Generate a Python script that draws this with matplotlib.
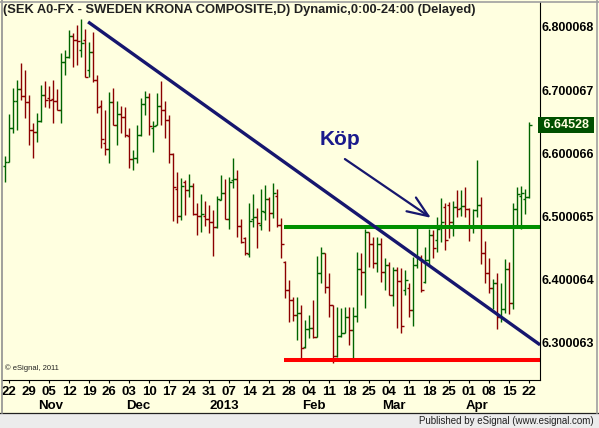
import matplotlib
matplotlib.use("Agg")
import matplotlib.pyplot as plt
from matplotlib.patches import Rectangle
from matplotlib.lines import Line2D
import pandas as pd

plt.rcParams['font.family'] = ['Liberation Sans', 'DejaVu Sans']

# daily bars, weekdays Fri 19 Oct 2012 .. Mon 22 Apr 2013
dates = pd.bdate_range("2012-10-19", "2013-04-22")

highs = [6.596, 6.662, 6.703, 6.716, 6.743, 6.732, 6.692, 6.648, 6.664, 6.708,
         6.715, 6.707, 6.716, 6.702, 6.759, 6.764, 6.795, 6.790, 6.803, 6.813,
         6.797, 6.776, 6.792, 6.724, 6.685, 6.669, 6.697, 6.703, 6.683, 6.675,
         6.673, 6.640, 6.605, 6.645, 6.688, 6.699, 6.696, 6.651, 6.696, 6.715,
         6.683, 6.661, 6.600, 6.571, 6.561, 6.558, 6.567, 6.553, 6.521, 6.536,
         6.525, 6.518, 6.510, 6.533, 6.566, 6.559, 6.563, 6.593, 6.574, 6.496,
         6.468, 6.521, 6.536, 6.514, 6.544, 6.550, 6.531, 6.553, 6.544, 6.498,
         6.430, 6.400, 6.373, 6.373, 6.360, 6.336, 6.344, 6.368, 6.438, 6.452,
         6.442, 6.411, 6.360, 6.357, 6.355, 6.357, 6.357, 6.357, 6.444, 6.442,
         6.480, 6.476, 6.468, 6.468, 6.466, 6.434, 6.428, 6.420, 6.420, 6.419,
         6.416, 6.395, 6.436, 6.487, 6.439, 6.452, 6.480, 6.479, 6.499, 6.529,
         6.521, 6.523, 6.525, 6.542, 6.542, 6.547, 6.514, 6.512, 6.590, 6.531,
         6.461, 6.434, 6.401, 6.411, 6.395, 6.433, 6.428, 6.521, 6.547, 6.548,
         6.544, 6.650]
lows = [6.555, 6.586, 6.632, 6.637, 6.685, 6.656, 6.613, 6.593, 6.618, 6.650,
        6.673, 6.672, 6.648, 6.669, 6.648, 6.724, 6.751, 6.737, 6.740, 6.753,
        6.721, 6.721, 6.713, 6.664, 6.609, 6.598, 6.585, 6.645, 6.613, 6.632,
        6.626, 6.577, 6.574, 6.585, 6.627, 6.661, 6.629, 6.602, 6.645, 6.645,
        6.624, 6.585, 6.493, 6.490, 6.495, 6.503, 6.531, 6.503, 6.471, 6.476,
        6.485, 6.474, 6.438, 6.482, 6.526, 6.496, 6.480, 6.545, 6.468, 6.458,
        6.439, 6.436, 6.484, 6.450, 6.479, 6.495, 6.477, 6.498, 6.484, 6.434,
        6.371, 6.333, 6.335, 6.305, 6.273, 6.292, 6.308, 6.308, 6.309, 6.395,
        6.379, 6.341, 6.268, 6.278, 6.309, 6.316, 6.297, 6.276, 6.333, 6.376,
        6.355, 6.420, 6.419, 6.412, 6.397, 6.384, 6.376, 6.358, 6.324, 6.316,
        6.376, 6.341, 6.327, 6.419, 6.381, 6.395, 6.423, 6.434, 6.444, 6.460,
        6.447, 6.466, 6.469, 6.499, 6.501, 6.499, 6.461, 6.474, 6.499, 6.425,
        6.395, 6.379, 6.354, 6.322, 6.333, 6.348, 6.346, 6.354, 6.482, 6.480,
        6.504, 6.529]
opens = [6.580, 6.586, 6.640, 6.683, 6.702, 6.691, 6.681, 6.637, 6.634, 6.651,
         6.692, 6.688, 6.686, 6.683, 6.669, 6.745, 6.753, 6.786, 6.779, 6.764,
         6.779, 6.732, 6.760, 6.716, 6.675, 6.617, 6.607, 6.681, 6.645, 6.662,
         6.658, 6.627, 6.591, 6.593, 6.629, 6.678, 6.689, 6.640, 6.645, 6.675,
         6.669, 6.653, 6.599, 6.544, 6.501, 6.555, 6.542, 6.548, 6.504, 6.501,
         6.501, 6.496, 6.491, 6.484, 6.526, 6.537, 6.496, 6.558, 6.559, 6.485,
         6.466, 6.441, 6.496, 6.499, 6.487, 6.507, 6.528, 6.506, 6.533, 6.487,
         6.428, 6.384, 6.368, 6.344, 6.348, 6.294, 6.322, 6.324, 6.309, 6.411,
         6.442, 6.389, 6.360, 6.279, 6.311, 6.316, 6.341, 6.321, 6.343, 6.417,
         6.412, 6.476, 6.457, 6.427, 6.457, 6.412, 6.423, 6.376, 6.416, 6.398,
         6.384, 6.387, 6.352, 6.423, 6.433, 6.397, 6.431, 6.471, 6.463, 6.487,
         6.515, 6.518, 6.491, 6.515, 6.514, 6.517, 6.512, 6.484, 6.510, 6.518,
         6.442, 6.411, 6.387, 6.395, 6.341, 6.354, 6.417, 6.363, 6.512, 6.533,
         6.528, 6.531]
closes = [6.586, 6.640, 6.683, 6.702, 6.691, 6.681, 6.637, 6.634, 6.651, 6.692,
          6.685, 6.685, 6.683, 6.669, 6.745, 6.753, 6.786, 6.779, 6.778, 6.775,
          6.721, 6.760, 6.716, 6.673, 6.623, 6.607, 6.681, 6.645, 6.662, 6.658,
          6.629, 6.591, 6.593, 6.629, 6.678, 6.689, 6.643, 6.643, 6.675, 6.669,
          6.653, 6.599, 6.547, 6.501, 6.548, 6.542, 6.548, 6.504, 6.501, 6.504,
          6.496, 6.491, 6.484, 6.528, 6.537, 6.496, 6.555, 6.559, 6.485, 6.460,
          6.442, 6.493, 6.499, 6.490, 6.509, 6.528, 6.506, 6.537, 6.487, 6.457,
          6.384, 6.368, 6.344, 6.348, 6.292, 6.322, 6.324, 6.309, 6.411, 6.442,
          6.389, 6.360, 6.279, 6.311, 6.316, 6.341, 6.321, 6.343, 6.417, 6.412,
          6.476, 6.457, 6.427, 6.457, 6.412, 6.423, 6.376, 6.416, 6.398, 6.327,
          6.400, 6.352, 6.423, 6.436, 6.384, 6.431, 6.471, 6.450, 6.480, 6.491,
          6.463, 6.491, 6.515, 6.512, 6.517, 6.512, 6.484, 6.510, 6.518, 6.442,
          6.411, 6.387, 6.395, 6.341, 6.354, 6.417, 6.363, 6.512, 6.536, 6.537,
          6.531, 6.645]

last_price = "6.64528"
price_ticks = [6.300063, 6.400064, 6.500065, 6.600066, 6.700067, 6.800068]

# drawn studies: horizontal levels, trend line, buy arrow
resistance = 6.484
support = 6.273
level_start = 69.7
trend_x = [20.7, 133.7]
trend_y = [6.808, 6.297]
arrow_from = (84.9, 6.591)
arrow_to = (106.4, 6.498)
buy_label = "Köp"
buy_pos = (83.7, 6.622)

bg = '#ffffe0'
up_col = '#006400'
dn_col = '#8b0000'
navy = '#16166e'

W, H = 599, 428
fig = plt.figure(figsize=(W / 100, H / 100), dpi=100, facecolor=bg)
ax = fig.add_axes([2 / W, 48 / H, 538 / W, 378 / H])
ax.set_facecolor(bg)

x = list(range(len(dates)))
cols = [up_col if c >= o else dn_col for o, c in zip(opens, closes)]
ax.vlines(x, lows, highs, colors=cols, lw=1.0)
ax.hlines(opens, [i - 0.55 for i in x], x, colors=cols, lw=1.0)
ax.hlines(closes, x, [i + 0.55 for i in x], colors=cols, lw=1.0)

xmax = 133.675
ax.plot([level_start, xmax], [resistance, resistance], color='#009000', lw=2.9,
        solid_capstyle='butt')
ax.plot([level_start, xmax], [support, support], color='#ff0000', lw=2.9,
        solid_capstyle='butt')
ax.plot(trend_x, trend_y, color=navy, lw=2.4, solid_capstyle='butt')
ax.annotate('', xy=arrow_to, xytext=arrow_from,
            arrowprops=dict(arrowstyle='->,head_length=1.5,head_width=0.6',
                            color=navy, lw=1.6, mutation_scale=10,
                            shrinkA=0, shrinkB=0))
ax.text(buy_pos[0], buy_pos[1], buy_label, color='#1a1a8c', fontsize=15,
        fontweight='bold', ha='center', va='center')

ax.set_xlim(-0.825, xmax)
ax.set_ylim(6.2414, 6.8395)

# date axis
mondays = [i for i, d in enumerate(dates) if d.weekday() == 0]
ax.set_xticks(mondays)
ax.set_xticklabels([dates[i].strftime('%d') for i in mondays],
                   fontsize=9.5, fontweight='bold')
ax.tick_params(axis='x', direction='out', length=2.5, width=0.8, pad=1.5,
               colors='black')
month_first = [i for i in range(1, len(dates)) if dates[i].month != dates[i - 1].month]
for i in month_first:
    d = dates[i]
    lab = str(d.year) if d.month == 1 else d.strftime('%b')
    ax.text(i - 0.9, -0.053, lab, transform=ax.get_xaxis_transform(),
            fontsize=9.5, fontweight='bold', ha='left', va='top')

# price axis
ax.yaxis.tick_right()
ax.set_yticks(price_ticks)
ax.set_yticklabels(['%.6f' % v for v in price_ticks], fontsize=9, fontweight='bold')
ax.tick_params(axis='y', length=0, pad=1)
ax.text(1.0, float(closes[-1]), ' ' + last_price + ' ', transform=ax.get_yaxis_transform(),
        fontsize=9, fontweight='bold', color='#ffffe0', ha='left', va='center',
        bbox=dict(boxstyle='square,pad=0.15', fc='#005000', ec='none'))

for s in ['top', 'left']:
    ax.spines[s].set_visible(False)
ax.spines['right'].set_color('black')
ax.spines['bottom'].set_color('black')

ax.text(0.006, 0.02, '\u00a9 eSignal, 2011', transform=ax.transAxes, fontsize=5.5,
        ha='left', va='bottom', color='#222222')

fig.text(3 / W, 1 - 10 / H,
         '(SEK A0-FX - SWEDEN KRONA COMPOSITE,D) Dynamic,0:00-24:00 (Delayed)',
         fontsize=9.3, fontweight='bold', color='#202020', ha='left', va='center')

# footer band and frame
fig.patches.append(Rectangle((0, 0), 1, 15 / H, transform=fig.transFigure,
                             fc='#ececec', ec='none', zorder=0))
fig.lines.append(Line2D([0, 1], [15 / H, 15 / H], transform=fig.transFigure,
                        color='#202020', lw=0.9))
fig.lines.append(Line2D([1.5 / W, 1.5 / W], [15 / H, 1], transform=fig.transFigure,
                        color='#909090', lw=1.2))
fig.lines.append(Line2D([0, 1], [1 - 1.5 / H, 1 - 1.5 / H], transform=fig.transFigure,
                        color='#a0a0a0', lw=1.2))
fig.lines.append(Line2D([1 - 2 / W, 1 - 2 / W], [15 / H, 1], transform=fig.transFigure,
                        color='#a0a0a0', lw=1.2))
fig.text(1 - 5 / W, 7 / H, 'Published by eSignal (www.esignal.com)', fontsize=7,
         ha='right', va='center', color='#202020')

fig.savefig('out.png', dpi=100, facecolor=bg)
